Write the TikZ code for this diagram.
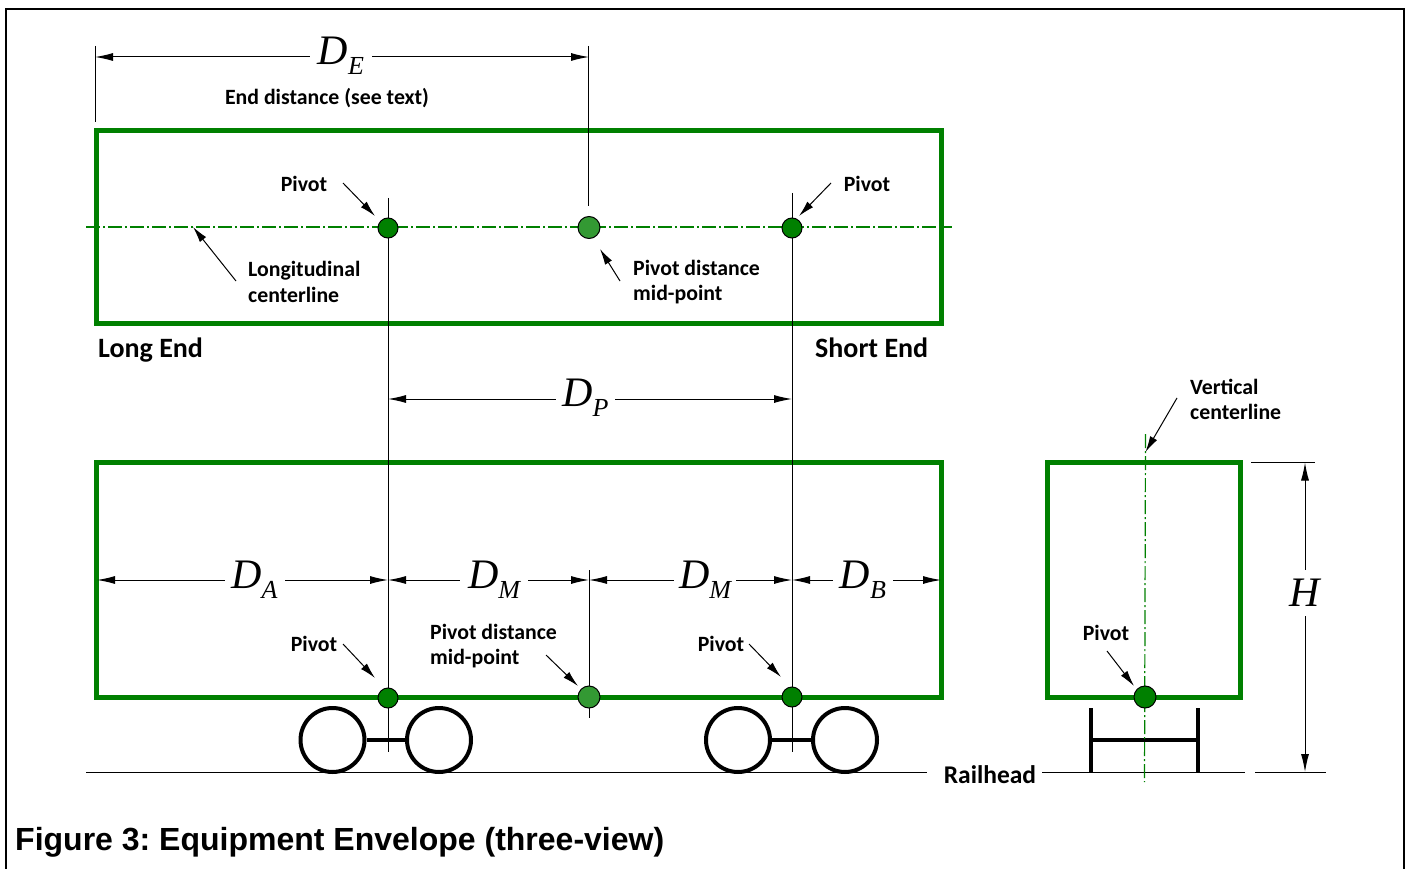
\documentclass[tikz,border=0pt]{standalone}
\usepackage{fontspec}
\setmainfont{Carlito}
\newfontfamily\capfont{Liberation Sans}
\newfontfamily\dimfont{Liberation Serif}
\usetikzlibrary{arrows.meta}

\definecolor{boxgreen}{HTML}{008000}
\definecolor{midgreen}{HTML}{339933}

\newcommand{\dimsym}[2]{{\dimfont\itshape\fontsize{42}{42}\selectfont #1\raisebox{-10pt}{\fontsize{26}{26}\selectfont #2}}}

\tikzset{
  envelope/.style={draw=boxgreen,line width=5pt},
  centerline/.style={draw=boxgreen,line width=1.2pt,dash pattern=on 14pt off 3pt on 2pt off 3pt},
  pivot/.style={circle,draw=black,fill=boxgreen,line width=1pt,minimum size=20pt,inner sep=0pt},
  midpivot/.style={pivot,fill=midgreen,minimum size=22pt},
  thinline/.style={draw=black,line width=1pt},
  wheel/.style={circle,draw=black,fill=white,line width=4pt,minimum size=64pt,inner sep=0pt},
  truck/.style={draw=black,line width=4pt},
  dimline/.style={thinline,{Latex[length=18pt,width=8pt]}-{Latex[length=18pt,width=8pt]}},
  leader/.style={thinline,-{Latex[length=16pt,width=8pt]}},
  dimlabel/.style={fill=white,inner sep=0pt,minimum width=#1,minimum height=30pt},
  txt/.style={font=\fontsize{21.8}{25.5}\selectfont\bfseries,align=left,inner sep=0pt},
  endtxt/.style={font=\fontsize{28}{32}\selectfont\bfseries,inner sep=0pt}
}

\begin{document}
\begin{tikzpicture}[x=1pt,y=-1pt]
\useasboundingbox (0,0) rectangle (1411,869);
\draw[line width=2pt] (6,880) -- (6,9) -- (1404,9) -- (1404,880);

% plan view
\draw[envelope] (96.5,130.5) rectangle (941,323);
\coordinate (clw) at (86,227);
\coordinate (cle) at (952,227);
\draw[centerline] (clw) -- (cle);

% elevation and end view
\draw[envelope] (96.5,462) rectangle (941,697);
\draw[envelope] (1047,462) rectangle (1240,697);

%---------------------------------

\coordinate (pivTop) at (388,198);
\coordinate (pivBot) at (388,752);
\draw[thinline] (pivTop) -- (pivBot);
\coordinate (pivTopB) at (792,193);
\coordinate (pivBotB) at (792,752);
\draw[thinline] (pivTopB) -- (pivBotB);
\coordinate (endA) at (95.5,46);
\coordinate (endB) at (95.5,122);
\draw[thinline] (endA) -- (endB);
\coordinate (midA) at (588.5,46);
\coordinate (midB) at (588.5,206);
\draw[thinline] (midA) -- (midB);
\coordinate (midC) at (589,570);
\coordinate (midD) at (589,718);
\draw[thinline] (midC) -- (midD);

% rail
\coordinate (railA) at (86,772);
\coordinate (railB) at (927,772);
\coordinate (railC) at (1042,772);
\coordinate (railD) at (1245,772);
\coordinate (railE) at (1255,772);
\coordinate (railF) at (1326,772);
\draw[thinline] (railA) -- (railB);
\draw[thinline] (railC) -- (railD);
\draw[thinline] (railE) -- (railF);
\coordinate (topH) at (1251,462.5);
\coordinate (topHb) at (1315,462.5);
\draw[thinline] (topH) -- (topHb);

% trucks
\node[wheel] (wa) at (332.5,740) {};
\node[wheel] (wb) at (439,740) {};
\node[wheel] (wc) at (738,740) {};
\node[wheel] (wd) at (845,740) {};
\draw[truck] (wa) -- (wb);
\draw[truck] (wc) -- (wd);
\coordinate (tla) at (1091,708);
\coordinate (tlb) at (1091,772);
\coordinate (tra) at (1198,708);
\coordinate (trb) at (1198,772);
\coordinate (tma) at (1091,740);
\coordinate (tmb) at (1198,740);
\draw[truck] (tla) -- (tlb);
\draw[truck] (tra) -- (trb);
\draw[truck] (tma) -- (tmb);

\coordinate (vca) at (1145.5,434);
\coordinate (vcb) at (1144.5,782);
\draw[centerline] (vca) -- (vcb);

%---------------------------------

\node[pivot] (pa) at (388,228) {};
\node[midpivot] (pm) at (589,227.5) {};
\node[pivot] (pb) at (792,228) {};
\node[pivot] (qa) at (388,698) {};
\node[midpivot] (qm) at (589,697) {};
\node[pivot] (qb) at (792,697) {};
\node[pivot,minimum size=22pt] (qs) at (1145,697) {};

%---------------------------------

% dimensions
\coordinate (deA) at (95,57);
\coordinate (deB) at (589,57);
\draw[dimline] (deA) -- (deB);
\node[dimlabel=62pt] (de) at (341,56) {\dimsym{D}{E}};

\coordinate (dpA) at (388,399);
\coordinate (dpB) at (792,399);
\draw[dimline] (dpA) -- (dpB);
\node[dimlabel=59pt] (dp) at (585.5,398) {\dimsym{D}{P}};

\coordinate (aA) at (97,580);
\coordinate (aB) at (388,580);
\coordinate (mA) at (388,580);
\coordinate (mB) at (589,580);
\coordinate (nA) at (589,580);
\coordinate (nB) at (792,580);
\coordinate (bA) at (792,580);
\coordinate (bB) at (941,580);
\draw[dimline] (aA) -- (aB);
\draw[dimline] (mA) -- (mB);
\draw[dimline] (nA) -- (nB);
\draw[dimline] (bA) -- (bB);
\node[dimlabel=60pt] (da) at (254.5,580) {\dimsym{D}{A}};
\node[dimlabel=68pt] (dm) at (494,580) {\dimsym{D}{M}};
\node[dimlabel=62pt] (dn) at (705,580) {\dimsym{D}{M}};
\node[dimlabel=60pt] (db) at (863,580) {\dimsym{D}{B}};

\coordinate (hA) at (1305,462.5);
\coordinate (hB) at (1305,772);
\draw[dimline] (hA) -- (hB);
\node[dimlabel=30pt,minimum height=46pt] (hh) at (1305,592.5) {{\dimfont\itshape\fontsize{42}{42}\selectfont H}};

%---------------------------------

% labels
\node[txt] (enddist) at (327,98) {End distance (see text)};
\node[txt] (lpa) at (304,184) {Pivot};
\node[txt] (lpb) at (867,184) {Pivot};
\node[txt,anchor=west] (lcl) at (248,282) {Longitudinal\\centerline};
\node[txt,anchor=west] (lmp) at (633,282) {Pivot distance\\mid-point};
\node[endtxt,anchor=base west] (longend) at (98,357) {Long End};
\node[endtxt,anchor=base west] (shortend) at (815,357) {Short End};
\node[txt,anchor=west] (lvc) at (1190,399.5) {Vertical\\centerline};
\node[txt] (lqa) at (314,644) {Pivot};
\node[txt,anchor=west] (lqm) at (430,646) {Pivot distance\\mid-point};
\node[txt] (lqb) at (721,644) {Pivot};
\node[txt] (lqs) at (1106,633) {Pivot};
\node[endtxt,font=\fontsize{25.5}{28}\selectfont\bfseries] (rail) at (990,775) {Railhead};
\node[anchor=west,inner sep=0pt,font=\capfont\bfseries\fontsize{32}{38}\selectfont\frenchspacing] (caption) at (15,842) {Figure 3: Equipment Envelope (three-view)};

%---------------------------------

% leaders
\coordinate (tpa) at (343,183);
\coordinate (hpa) at (375,216);
\draw[leader] (tpa) -- (hpa);
\coordinate (tpb) at (831,183);
\coordinate (hpb) at (799,216);
\draw[leader] (tpb) -- (hpb);
\coordinate (tcl) at (236,281);
\coordinate (hcl) at (193,227);
\draw[leader] (tcl) -- (hcl);
\coordinate (tmp) at (620,281);
\coordinate (hmp) at (600,249);
\draw[leader] (tmp) -- (hmp);
\coordinate (tqa) at (343,644);
\coordinate (hqa) at (375,678);
\draw[leader] (tqa) -- (hqa);
\coordinate (tqm) at (546,655);
\coordinate (hqm) at (578,686);
\draw[leader] (tqm) -- (hqm);
\coordinate (tqb) at (749,644);
\coordinate (hqb) at (781,677);
\draw[leader] (tqb) -- (hqb);
\coordinate (tqs) at (1107,651);
\coordinate (hqs) at (1134,686);
\draw[leader] (tqs) -- (hqs);
\coordinate (tvc) at (1177,398);
\coordinate (hvc) at (1145.5,452);
\draw[leader] (tvc) -- (hvc);

\end{tikzpicture}
\end{document}
